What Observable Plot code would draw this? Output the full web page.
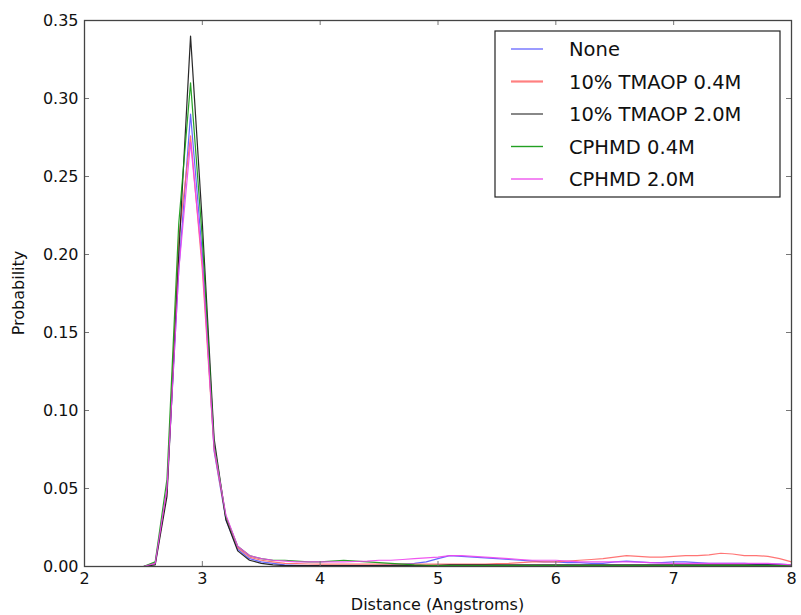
<!DOCTYPE html>
<html>
<head>
<meta charset="utf-8">
<script src="https://cdn.jsdelivr.net/npm/d3@7"></script>
<script src="https://cdn.jsdelivr.net/npm/@observablehq/plot@0.6"></script>
<style>
  html, body { margin: 0; padding: 0; background: #fff; }
  #chart { width: 801px; height: 615px; }
  svg { font-family: "DejaVu Sans", sans-serif; }
</style>
</head>
<body>
<div id="chart"></div>
<script>
const distance = [2.0,2.1,2.2,2.3,2.4,2.5,2.6,2.7,2.8,2.9,3.0,3.1,3.2,3.3,3.4,3.5,3.6,3.7,3.8,3.9,
  4.0,4.1,4.2,4.3,4.4,4.5,4.6,4.7,4.8,4.9,5.0,5.1,5.2,5.3,5.4,5.5,5.6,5.7,5.8,5.9,
  6.0,6.1,6.2,6.3,6.4,6.5,6.6,6.7,6.8,6.9,7.0,7.1,7.2,7.3,7.4,7.5,7.6,7.7,7.8,7.9,8.0];

const seriesNames = ["None", "10% TMAOP 0.4M", "10% TMAOP 2.0M", "CPHMD 0.4M", "CPHMD 2.0M"];
const seriesColors = ["#5555ff", "#ff6666", "#111111", "#119911", "#ee44ee"];
const legendColors = ["#7070ff", "#ff8080", "#555555", "#22a022", "#ee55ee"];

const none = [0,0,0,0,0,0, 0.002,0.05,0.19,0.29,0.2,0.074,0.03,0.011,0.005,0.003,0.002,0.001,0.0008,0.0006,
  0.0005,0.0005,0.0005,0.0005,0.0006,0.0008,0.001,0.0015,0.002,0.003,0.005,0.007,0.0065,0.006,0.0055,0.005,0.0045,0.004,0.0035,0.003,
  0.003,0.0025,0.0025,0.002,0.002,0.003,0.0035,0.003,0.0025,0.0025,0.003,0.003,0.0025,0.002,0.002,0.002,0.002,0.0015,0.0015,0.0015,0.001];
const tmaop04 = [0,0,0,0,0,0, 0.002,0.048,0.21,0.276,0.19,0.075,0.031,0.012,0.006,0.004,0.003,0.002,0.0018,0.0016,
  0.0015,0.0015,0.0015,0.0015,0.0015,0.0015,0.0015,0.0015,0.0015,0.0015,0.0015,0.0015,0.0015,0.0015,0.0015,0.0018,0.002,0.0025,0.003,0.003,
  0.003,0.0035,0.004,0.0045,0.005,0.006,0.007,0.0065,0.006,0.006,0.0065,0.007,0.007,0.0075,0.0085,0.008,0.007,0.007,0.0065,0.005,0.003];
const tmaop20 = [0,0,0,0,0,0, 0.001,0.045,0.2,0.34,0.22,0.082,0.03,0.01,0.004,0.002,0.001,0.0006,0.0005,0.0005,
  0.0005,0.0005,0.0005,0.0005,0.0005,0.0005,0.0005,0.0005,0.0005,0.0006,0.0008,0.001,0.001,0.001,0.001,0.001,0.001,0.001,0.001,0.001,
  0.001,0.001,0.001,0.001,0.001,0.001,0.001,0.001,0.001,0.001,0.001,0.001,0.001,0.001,0.001,0.001,0.001,0.001,0.001,0.001,0.0008];
const cphmd04 = [0,0,0,0,0,0, 0.003,0.056,0.22,0.31,0.21,0.078,0.032,0.013,0.007,0.005,0.004,0.004,0.0035,0.003,
  0.003,0.0035,0.004,0.0035,0.003,0.0025,0.002,0.0015,0.001,0.0008,0.0006,0.0005,0.0005,0.0005,0.0005,0.0005,0.0005,0.0005,0.0005,0.0005,
  0.0005,0.0005,0.0005,0.0005,0.0005,0.0005,0.0005,0.0005,0.0005,0.0005,0.0005,0.0005,0.0005,0.0005,0.0005,0.0005,0.0005,0.0005,0.0005,0.0005,0.0005];
const cphmd20 = [0,0,0,0,0,0, 0.002,0.05,0.19,0.272,0.195,0.076,0.033,0.013,0.007,0.005,0.004,0.0035,0.003,0.003,
  0.003,0.003,0.003,0.0032,0.0035,0.004,0.004,0.0045,0.005,0.0055,0.006,0.007,0.007,0.0065,0.006,0.0055,0.005,0.0045,0.004,0.004,
  0.004,0.0035,0.003,0.003,0.003,0.003,0.003,0.0028,0.0025,0.0022,0.002,0.002,0.002,0.002,0.002,0.002,0.002,0.002,0.002,0.0015,0.001];

const xTicks = [2,3,4,5,6,7,8];
const xTickLabels = ["2","3","4","5","6","7","8"];
const yTicks = [0,0.05,0.10,0.15,0.20,0.25,0.30,0.35];
const yTickLabels = ["0.00","0.05","0.10","0.15","0.20","0.25","0.30","0.35"];

const allSeries = [none, tmaop04, tmaop20, cphmd04, cphmd20];
const rows = [];
allSeries.forEach((vals, si) => {
  vals.forEach((v, i) => rows.push({series: seriesNames[si], x: distance[i], y: v}));
});

const W = 801, H = 615, mL = 84, mR = 10, mT = 20, mB = 49;
const frameH = H - mT - mB, frameW = W - mL - mR;
const tickLen = 5;

const chart = Plot.plot({
  width: W, height: H,
  marginLeft: mL, marginRight: mR, marginTop: mT, marginBottom: mB,
  style: {fontFamily: "DejaVu Sans, sans-serif", fontSize: "16px", background: "#fff", color: "#111"},
  x: {domain: [2, 8]},
  y: {domain: [0, 0.35]},
  color: {domain: seriesNames, range: seriesColors},
  marks: [
    Plot.line(rows, {x: "x", y: "y", z: "series", stroke: "series", strokeWidth: 1.2, strokeOpacity: 0.9}),
    Plot.tickX(xTicks, {x: d => d, insetTop: frameH - tickLen, stroke: "#777", strokeWidth: 1}),
    Plot.tickX(xTicks, {x: d => d, insetBottom: frameH - tickLen, stroke: "#777", strokeWidth: 1}),
    Plot.tickY(yTicks, {y: d => d, insetRight: frameW - tickLen, stroke: "#777", strokeWidth: 1}),
    Plot.tickY(yTicks, {y: d => d, insetLeft: frameW - tickLen, stroke: "#777", strokeWidth: 1}),
    Plot.frame({stroke: "#444", strokeWidth: 1.3}),
    Plot.axisX(xTicks, {tickSize: 0, tickPadding: 6, label: null, fontSize: 16,
      tickFormat: d => xTickLabels[xTicks.indexOf(d)]}),
    Plot.axisY(yTicks, {tickSize: 0, tickPadding: 6, label: null, fontSize: 16,
      tickFormat: d => yTickLabels[yTicks.indexOf(d)]})
  ]
});

document.getElementById("chart").appendChild(chart);

const svg = d3.select(chart);
svg.append("text")
  .attr("x", mL + frameW / 2).attr("y", H - 5)
  .attr("text-anchor", "middle")
  .attr("font-size", 16).attr("fill", "#111")
  .text("Distance (Angstroms)");
svg.append("text")
  .attr("transform", `translate(24,${mT + frameH / 2}) rotate(-90)`)
  .attr("text-anchor", "middle")
  .attr("font-size", 16).attr("fill", "#111")
  .text("Probability");

const lg = svg.append("g").attr("text-anchor", "start");
lg.append("rect")
  .attr("x", 495).attr("y", 31).attr("width", 285).attr("height", 166)
  .attr("fill", "#fff").attr("stroke", "#222").attr("stroke-width", 1.2);
seriesNames.forEach((name, i) => {
  const yy = 49 + i * 32.5;
  lg.append("line")
    .attr("x1", 511).attr("x2", 543).attr("y1", yy).attr("y2", yy)
    .attr("stroke", legendColors[i]).attr("stroke-width", i === 1 ? 2.2 : 1.4);
  lg.append("text")
    .attr("x", 569).attr("y", yy).attr("dy", "0.36em")
    .attr("text-anchor", "start")
    .attr("font-size", 19.5).attr("fill", "#111")
    .text(name);
});
</script>
</body>
</html>
